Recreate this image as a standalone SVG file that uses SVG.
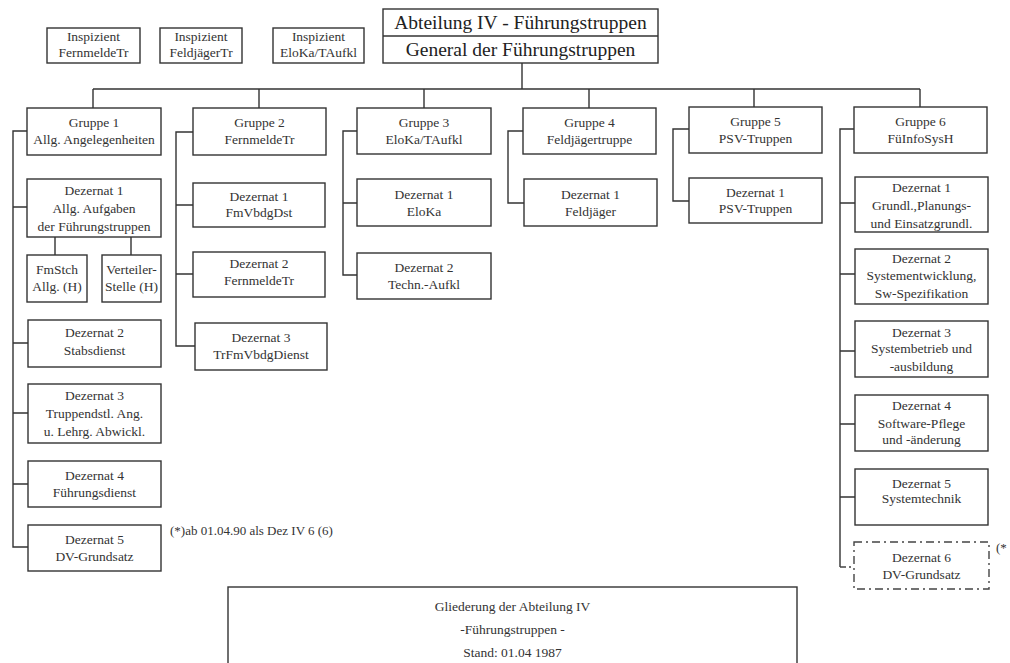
<svg xmlns="http://www.w3.org/2000/svg" width="1010" height="663" viewBox="0 0 1010 663">
<style>
.b{fill:#fff;stroke:#333;stroke-width:1.4}
.d{fill:#fff;stroke:#444;stroke-width:1.4;stroke-dasharray:8,4,2,4}
.t{font-family:"Liberation Serif","Times New Roman",serif;font-size:13.5px;fill:#333;text-anchor:middle}
.h{font-family:"Liberation Serif","Times New Roman",serif;font-size:19.5px;fill:#222;text-anchor:middle}
.f{font-family:"Liberation Serif","Times New Roman",serif;font-size:13px;fill:#333}
.c{fill:none;stroke:#333;stroke-width:1.4}
.cd{fill:none;stroke:#444;stroke-width:1.4;stroke-dasharray:6,3,2,3}
</style>
<rect x="0" y="0" width="1010" height="663" fill="#fff"/>
<g id="connectors">
<path class="c" d="M522 63V89M93 89H920M93 89V108M259 89V108M424 89V108M589 89V108M754 89V108M920 89V108"/>
<path class="c" d="M27 131H13V547H28M13 207H27M13 343H28M13 413H28M13 484H28M55 237V255M131 237V255"/>
<path class="c" d="M193 132H176V346H195M176 205H193M176 274H193"/>
<path class="c" d="M357 131H343V275H357M343 203H357"/>
<path class="c" d="M523 131H508V203H524"/>
<path class="c" d="M689 129H673V201H689"/>
<path class="c" d="M854 129H840V567M840 203H855M840 274H855M840 351H855M840 424H855M840 497H855"/>
<path class="cd" d="M840 567H854"/>
</g>
<g id="insp1"><rect class="b" x="47" y="28" width="93" height="35"/><text class="t" x="93.5" y="41">Inspizient</text><text class="t" x="93.5" y="57">FernmeldeTr</text></g>
<g id="insp2"><rect class="b" x="160" y="28" width="82" height="35"/><text class="t" x="201" y="41">Inspizient</text><text class="t" x="201" y="57">FeldjägerTr</text></g>
<g id="insp3"><rect class="b" x="273" y="28" width="91" height="35"/><text class="t" x="318.5" y="41">Inspizient</text><text class="t" x="318.5" y="57">EloKa/TAufkl</text></g>
<g id="abteilung"><rect class="b" x="383" y="9" width="275" height="54"/><line class="c" x1="383" y1="36" x2="658" y2="36"/><text class="h" x="520.5" y="29">Abteilung IV - Führungstruppen</text><text class="h" x="520.5" y="56">General der Führungstruppen</text></g>
<g id="g1"><rect class="b" x="27" y="108" width="134" height="47"/><text class="t" x="94" y="127">Gruppe 1</text><text class="t" x="94" y="144">Allg. Angelegenheiten</text></g>
<g id="g2"><rect class="b" x="193" y="108" width="133" height="47"/><text class="t" x="259.5" y="127">Gruppe 2</text><text class="t" x="259.5" y="144">FernmeldeTr</text></g>
<g id="g3"><rect class="b" x="357" y="108" width="134" height="46"/><text class="t" x="424" y="127">Gruppe 3</text><text class="t" x="424" y="144">EloKa/TAufkl</text></g>
<g id="g4"><rect class="b" x="523" y="108" width="133" height="46"/><text class="t" x="589.5" y="127">Gruppe 4</text><text class="t" x="589.5" y="144">Feldjägertruppe</text></g>
<g id="g5"><rect class="b" x="689" y="107" width="133" height="46"/><text class="t" x="755.5" y="126">Gruppe 5</text><text class="t" x="755.5" y="143">PSV-Truppen</text></g>
<g id="g6"><rect class="b" x="854" y="107" width="133" height="46"/><text class="t" x="920.5" y="126">Gruppe 6</text><text class="t" x="920.5" y="143">FüInfoSysH</text></g>
<g id="g1d1"><rect class="b" x="27" y="179" width="134" height="58"/><text class="t" x="94" y="194.5">Dezernat 1</text><text class="t" x="94" y="212.5">Allg. Aufgaben</text><text class="t" x="94" y="230.5">der Führungstruppen</text></g>
<g id="g1fm"><rect class="b" x="27" y="255" width="60" height="47"/><text class="t" x="57" y="274">FmStch</text><text class="t" x="57" y="291">Allg. (H)</text></g>
<g id="g1vs"><rect class="b" x="102" y="255" width="59" height="47"/><text class="t" x="131.5" y="274">Verteiler-</text><text class="t" x="131.5" y="291">Stelle (H)</text></g>
<g id="g1d2"><rect class="b" x="28" y="320" width="133" height="47"/><text class="t" x="94.5" y="337">Dezernat 2</text><text class="t" x="94.5" y="355">Stabsdienst</text></g>
<g id="g1d3"><rect class="b" x="28" y="384" width="133" height="59"/><text class="t" x="94.5" y="399.5">Dezernat 3</text><text class="t" x="94.5" y="417.5">Truppendstl. Ang.</text><text class="t" x="94.5" y="436">u. Lehrg. Abwickl.</text></g>
<g id="g1d4"><rect class="b" x="28" y="461" width="133" height="46"/><text class="t" x="94.5" y="480">Dezernat 4</text><text class="t" x="94.5" y="496.5">Führungsdienst</text></g>
<g id="g1d5"><rect class="b" x="28" y="525" width="133" height="46"/><text class="t" x="94.5" y="543.5">Dezernat 5</text><text class="t" x="94.5" y="561">DV-Grundsatz</text></g>
<text class="f" x="170" y="535">(*)ab 01.04.90 als Dez IV 6 (6)</text>
<g id="g2d1"><rect class="b" x="193" y="183" width="132" height="44"/><text class="t" x="259" y="200.5">Dezernat 1</text><text class="t" x="259" y="216.5">FmVbdgDst</text></g>
<g id="g2d2"><rect class="b" x="193" y="252" width="132" height="45"/><text class="t" x="259" y="267.5">Dezernat 2</text><text class="t" x="259" y="284.5">FernmeldeTr</text></g>
<g id="g2d3"><rect class="b" x="195" y="323" width="132" height="47"/><text class="t" x="261" y="341.5">Dezernat 3</text><text class="t" x="261" y="358.5">TrFmVbdgDienst</text></g>
<g id="g3d1"><rect class="b" x="357" y="179" width="134" height="47"/><text class="t" x="424" y="198.5">Dezernat 1</text><text class="t" x="424" y="215.5">EloKa</text></g>
<g id="g3d2"><rect class="b" x="357" y="253" width="134" height="46"/><text class="t" x="424" y="271.5">Dezernat 2</text><text class="t" x="424" y="288.5">Techn.-Aufkl</text></g>
<g id="g4d1"><rect class="b" x="524" y="179" width="133" height="47"/><text class="t" x="590.5" y="198.5">Dezernat 1</text><text class="t" x="590.5" y="215.5">Feldjäger</text></g>
<g id="g5d1"><rect class="b" x="689" y="178" width="133" height="45"/><text class="t" x="755.5" y="196.5">Dezernat 1</text><text class="t" x="755.5" y="212.5">PSV-Truppen</text></g>
<g id="g6d1"><rect class="b" x="855" y="177" width="133" height="55"/><text class="t" x="921.5" y="191.5">Dezernat 1</text><text class="t" x="921.5" y="209.5">Grundl.,Planungs-</text><text class="t" x="921.5" y="227.5">und Einsatzgrundl.</text></g>
<g id="g6d2"><rect class="b" x="855" y="249" width="133" height="55"/><text class="t" x="921.5" y="262.5">Dezernat 2</text><text class="t" x="921.5" y="279.5">Systementwicklung,</text><text class="t" x="921.5" y="297.5">Sw-Spezifikation</text></g>
<g id="g6d3"><rect class="b" x="855" y="321" width="133" height="56"/><text class="t" x="921.5" y="336.5">Dezernat 3</text><text class="t" x="921.5" y="352.5">Systembetrieb und</text><text class="t" x="921.5" y="370.5">-ausbildung</text></g>
<g id="g6d4"><rect class="b" x="855" y="395" width="133" height="56"/><text class="t" x="921.5" y="409.5">Dezernat 4</text><text class="t" x="921.5" y="427.5">Software-Pflege</text><text class="t" x="921.5" y="443.5">und -änderung</text></g>
<g id="g6d5"><rect class="b" x="855" y="469" width="133" height="56"/><text class="t" x="921.5" y="487.5">Dezernat 5</text><text class="t" x="921.5" y="503">Systemtechnik</text></g>
<g id="g6d6"><rect class="d" x="854" y="542" width="135" height="47"/><text class="t" x="921.5" y="561.5">Dezernat 6</text><text class="t" x="921.5" y="578.5">DV-Grundsatz</text></g>
<text class="f" x="996" y="552">(*</text>
<g id="legend"><rect class="b" x="228" y="587" width="569" height="90"/><text class="t" x="512.5" y="611">Gliederung der Abteilung IV</text><text class="t" x="512.5" y="634">-Führungstruppen -</text><text class="t" x="512.5" y="657">Stand: 01.04 1987</text></g>
</svg>
